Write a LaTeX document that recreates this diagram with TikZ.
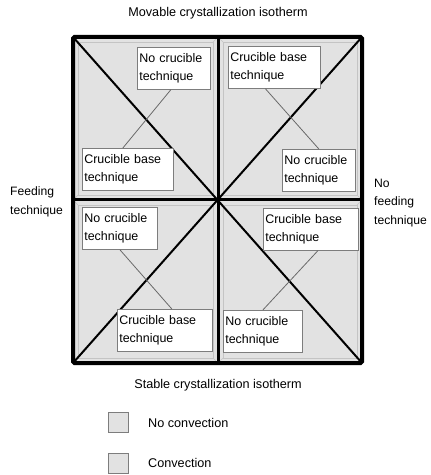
\documentclass[tikz,border=0pt]{standalone}
\usepackage{fontspec}
\setmainfont{Liberation Sans}
\usetikzlibrary{calc}
\definecolor{panel}{RGB}{226,226,226}
\definecolor{bevel}{RGB}{196,196,196}
\definecolor{framegray}{RGB}{125,125,125}
\definecolor{linkgray}{RGB}{105,105,105}

\begin{document}
\begin{tikzpicture}[x=1bp,y=-1bp,
  lbl/.style={font=\fontsize{12.7}{18.5}\selectfont, align=left, inner sep=0pt},
  side/.style={font=\fontsize{12.2}{18.5}\selectfont, align=left, inner sep=0pt, anchor=west},
  tbox/.style={draw=framegray, fill=white, line width=0.7bp,
    font=\fontsize{12.5}{17.5}\selectfont, align=left, inner sep=2bp,
    anchor=north west, minimum height=42bp},
  link/.style={draw=linkgray, line width=0.8bp},
  keybox/.style={draw=framegray, fill=panel, line width=1bp, minimum size=20bp, inner sep=0pt}]

\useasboundingbox (0,0) rectangle (430,475);

% four bevelled quadrant panels
\foreach \xa/\ya/\xb/\yb in {73/37/218/200, 218/37/362/200, 73/200/218/363, 218/200/362/363}{
  \fill[panel] (\xa,\ya) rectangle (\xb,\yb);
  \draw[bevel, line width=0.6bp] (\xa+5,\ya+5) rectangle (\xb-5,\yb-5);
  \draw[bevel, line width=0.6bp] (\xa,\ya) -- (\xa+5,\ya+5) (\xb,\ya) -- (\xb-5,\ya+5)
                                 (\xa,\yb) -- (\xa+5,\yb-5) (\xb,\yb) -- (\xb-5,\yb-5);
}

% corner diagonals meeting in the middle
\draw[line width=2bp] (73,37) -- (362,363);
\draw[line width=2bp] (73,363) -- (362,37);

% dividing lines and outer frame
\draw[line width=3bp] (218,37) -- (218,363);
\draw[line width=3bp] (73,200) -- (362,200);
\draw[line width=4bp, rounded corners=1.5bp] (73,37) rectangle (362,363);

% technique boxes
\node[tbox, text width=69bp] (q1a) at (137,47) {No crucible\\technique};
\node[tbox, text width=87bp] (q1b) at (82,148) {Crucible base\\technique};
\node[tbox, text width=88bp] (q2a) at (228,46) {Crucible base\\technique};
\node[tbox, text width=69bp] (q2b) at (282,149) {No crucible\\technique};
\node[tbox, text width=71bp] (q3a) at (82,207) {No crucible\\technique};
\node[tbox, text width=91bp] (q3b) at (117,309) {Crucible base\\technique};
\node[tbox, text width=91bp] (q4a) at (263,208) {Crucible base\\technique};
\node[tbox, text width=75bp] (q4b) at (223,310) {No crucible\\technique};

% links between the paired boxes
\draw[link] ([xshift=-5bp]q1b.north) -- ([xshift=-3bp]q1a.south);
\draw[link] ([xshift=-9bp]q2a.south) -- (q2b.north);
\draw[link] (q3a.south) -- ([xshift=7bp]q3b.north);
\draw[link] ([xshift=7bp]q4a.south) -- (q4b.north);

% axis labels
\node[lbl] (top) at (218,13) {Movable crystallization isotherm};
\node[lbl] (bottom) at (218,385) {Stable crystallization isotherm};
\node[side] (left) at (10,202) {Feeding\\technique};
\node[side] (right) at (374,203) {No\\feeding\\technique};

% legend
\node[keybox] (k1) at (118,422.5) {};
\node[keybox] (k2) at (118,463) {};
\node[lbl, anchor=west] (k1t) at (148,422.5) {No convection};
\node[lbl, anchor=west] (k2t) at (148,463) {Convection};
\end{tikzpicture}
\end{document}
